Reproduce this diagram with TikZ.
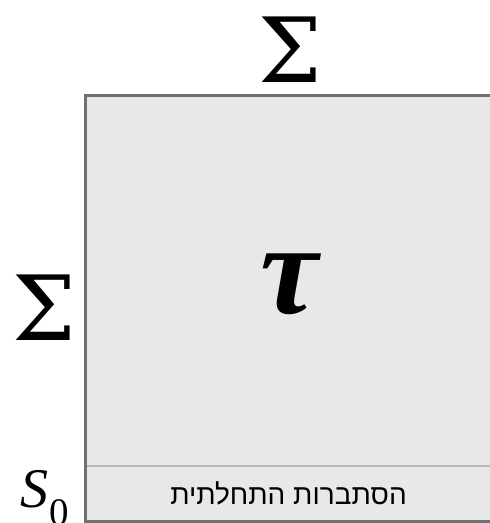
\documentclass[tikz,border=0pt]{standalone}
\usepackage[no-math]{fontspec}
\setmainfont{Liberation Serif}
\newfontfamily\sigfont{DejaVu Serif}
\newfontfamily\hebfont[Script=Hebrew]{Liberation Sans}
\TeXXeTstate=1
\definecolor{boxfill}{HTML}{E8E8E8}
\definecolor{boxedge}{HTML}{707070}
\definecolor{divline}{HTML}{BBBBBB}
\begin{document}
\begin{tikzpicture}[x=1pt,y=1pt, lbl/.style={inner sep=0pt, outer sep=0pt}]
\useasboundingbox (0,0) rectangle (490,523);
\fill[boxfill] (85,1.5) rectangle (495,427.5);
\draw[divline, line width=2pt] (85,57) -- (495,57);
\draw[boxedge, line width=3pt] (495,427.5) -- (85,427.5) -- (85,1.5) -- (495,1.5);
\node[lbl, anchor=base] (sigtop) at (290,440) {\sigfont\fontsize{90}{90}\selectfont Σ};
\node[lbl, anchor=base] (sigleft) at (44.5,182) {\sigfont\fontsize{90}{90}\selectfont Σ};
\node[lbl, anchor=base] (tau) at (289.5,209) {\fontsize{130}{130}\selectfont\bfseries\itshape τ};
\node[lbl, anchor=base west] (szero) at (20,16) {\fontsize{56}{56}\selectfont\textit{S}\kern1pt\raisebox{-0.33em}{\fontsize{39}{39}\selectfont 0}};
\node[lbl, anchor=base] (init) at (288.5,18) {\hebfont\fontsize{28}{28}\selectfont\beginR הסתברות התחלתית\endR};
\end{tikzpicture}
\end{document}
